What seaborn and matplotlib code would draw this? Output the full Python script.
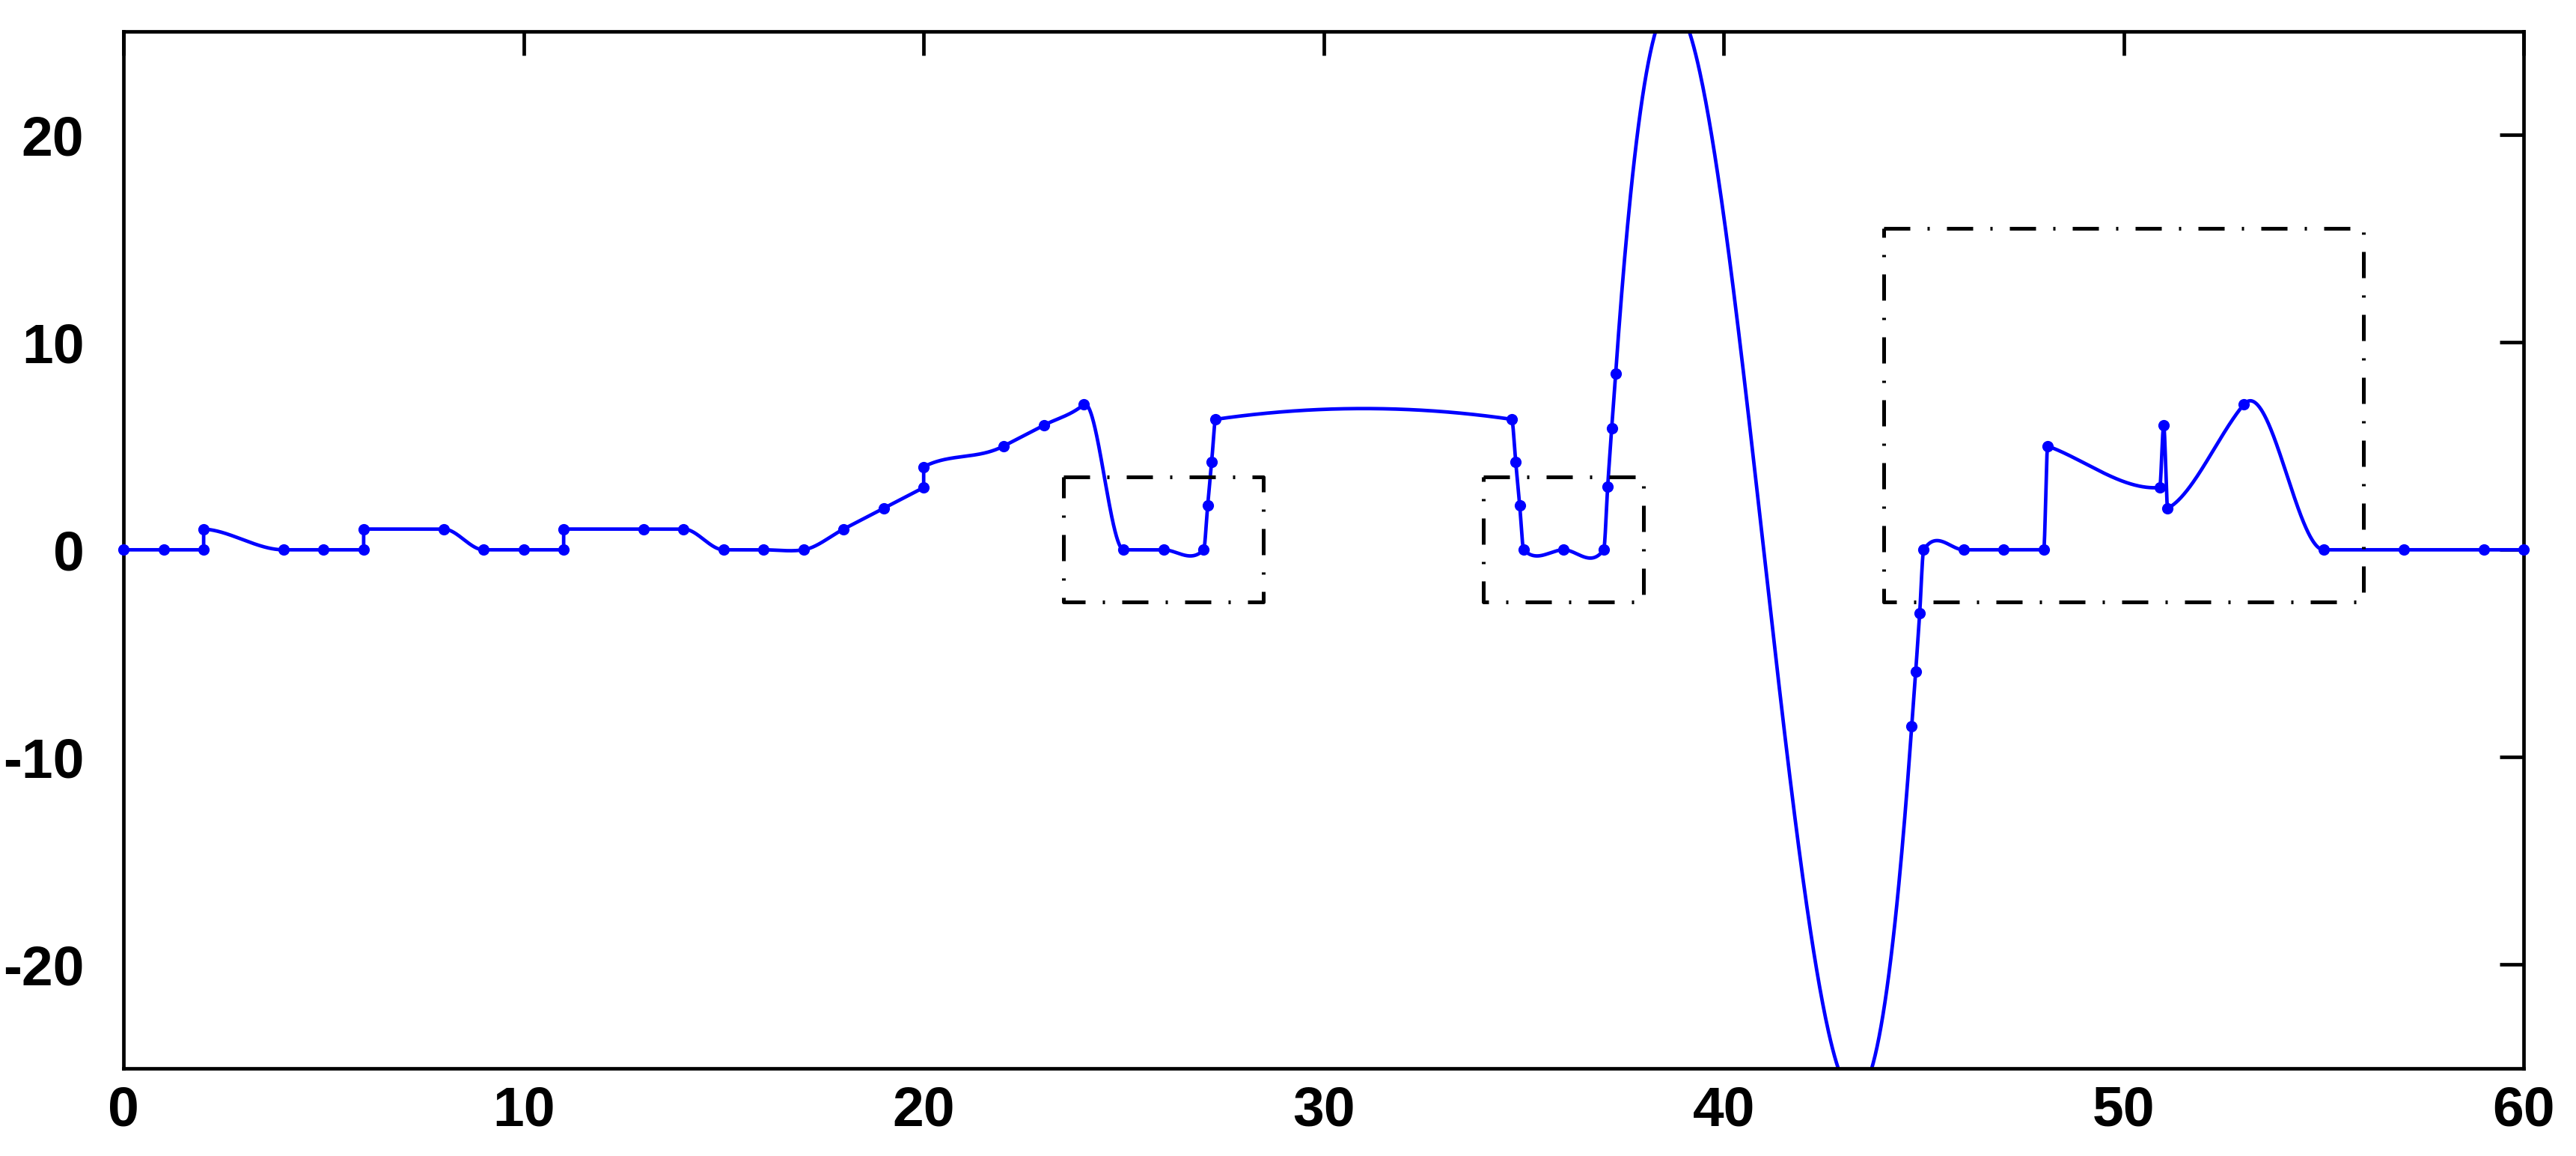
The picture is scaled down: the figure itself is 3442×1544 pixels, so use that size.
import numpy as np
import pandas as pd
import matplotlib
matplotlib.use("Agg")
import matplotlib.pyplot as plt
import seaborn as sns

# data points (duplicate x = vertical jump)
x_pts = [0, 1, 2, 2, 4, 5, 6, 6, 8, 9, 10, 11, 11, 13, 14, 15, 16, 17,
         18, 19, 20, 20, 22, 23, 24, 25, 26, 27, 27.1, 27.2, 27.3,
         34.7, 34.8, 34.9, 35, 36, 37, 37.1, 37.2, 37.3,
         44.7, 44.8, 44.9, 45, 46, 47, 48, 48.1, 50.9, 51, 51.1,
         53, 55, 57, 59, 60]
y_pts = [0, 0, 0, 1, 0, 0, 0, 1, 1, 0, 0, 0, 1, 1, 1, 0, 0, 0,
         1, 2, 3, 4, 5, 6, 7, 0, 0, 0, 2.14, 4.25, 6.29,
         6.29, 4.25, 2.14, 0, 0, 0, 3.05, 5.87, 8.5,
         -8.5, -5.87, -3.05, 0, 0, 0, 0, 5, 3, 6, 2,
         7, 0, 0, 0, 0]
# tangent of the drawn curve at each point
slopes = [0, 0, 0, -0.1, 0, 0, 0, 0, 0, 0, 0, 0, 0, 0, 0, 0, 0, 0.3,
          1, 1, 1, 1, 1, 1, 1.6, 0, 0, 2, 21.2, 20.7, 0.28,
          -0.28, -20.7, -21.2, -2, 0, 2.7, 29.5, 27, 27.5,
          27.5, 27, 29.5, 3, 0, 0, 0, -0.7, 0.15, 0, 1,
          2.3, 0, 0, 0, 0]

# dash-dot boxes
box_x0 = [23.5, 34, 44]
box_x1 = [28.5, 38, 56]
box_y0 = [-2.5, -2.5, -2.5]
box_y1 = [3.5, 3.5, 15.5]

x_ticks = [0, 10, 20, 30, 40, 50, 60]
y_ticks = [-20, -10, 0, 10, 20]

# piecewise cubic hermite through the points
cx, cy = [], []
for i in range(len(x_pts) - 1):
    x0, x1 = x_pts[i], x_pts[i + 1]
    y0, y1 = y_pts[i], y_pts[i + 1]
    if x1 == x0:
        cx += [x0, x1]
        cy += [y0, y1]
        continue
    h = x1 - x0
    t = np.linspace(0, 1, 300)
    h00 = 2 * t**3 - 3 * t**2 + 1
    h10 = t**3 - 2 * t**2 + t
    h01 = -2 * t**3 + 3 * t**2
    h11 = t**3 - t**2
    cx += list(x0 + h * t)
    cy += list(h00 * y0 + h10 * h * slopes[i] + h01 * y1 + h11 * h * slopes[i + 1])
curve = pd.DataFrame({"x": cx, "y": cy})
pts = pd.DataFrame({"x": x_pts, "y": y_pts})

sns.set_theme(style="white")
plt.rcParams["font.family"] = ["Liberation Sans", "DejaVu Sans"]
plt.rcParams["font.weight"] = "bold"
plt.rcParams["axes.unicode_minus"] = False

fig = plt.figure(figsize=(34.42, 15.44), dpi=100)
ax = fig.add_axes([0.048, 0.0758, 0.9317, 0.8972])

sns.lineplot(data=curve, x="x", y="y", sort=False, estimator=None,
             color="#0000ff", linewidth=3.4, ax=ax)
for ln in ax.lines:
    ln.set_linewidth(3.4)
    ln.set_solid_joinstyle("round")
sns.scatterplot(data=pts, x="x", y="y", color="#0000ff", s=120,
                linewidth=0, zorder=3, clip_on=False, ax=ax)

for bx0, bx1, by0, by1 in zip(box_x0, box_x1, box_y0, box_y1):
    ax.plot([bx0, bx1, bx1, bx0, bx0], [by1, by1, by0, by0, by1],
            color="black", linewidth=3.6, dashes=(7, 4.6, 0.6, 4.6),
            dash_capstyle="butt")

ax.set_xlim(0, 60)
ax.set_ylim(-25, 25)
ax.set_xticks(x_ticks)
ax.set_yticks(y_ticks)
ax.set_xlabel("")
ax.set_ylabel("")
ax.tick_params(direction="in", length=23, width=3.4, top=True, right=True,
               labelsize=54, colors="black")
ax.tick_params(axis="x", pad=16)
ax.tick_params(axis="y", pad=38)
for lab in ax.get_xticklabels() + ax.get_yticklabels():
    lab.set_fontweight("bold")
for s in ax.spines.values():
    s.set_linewidth(3.4)
    s.set_color("black")
    s.set_visible(True)

fig.savefig("out.png", dpi=100, facecolor="white")
